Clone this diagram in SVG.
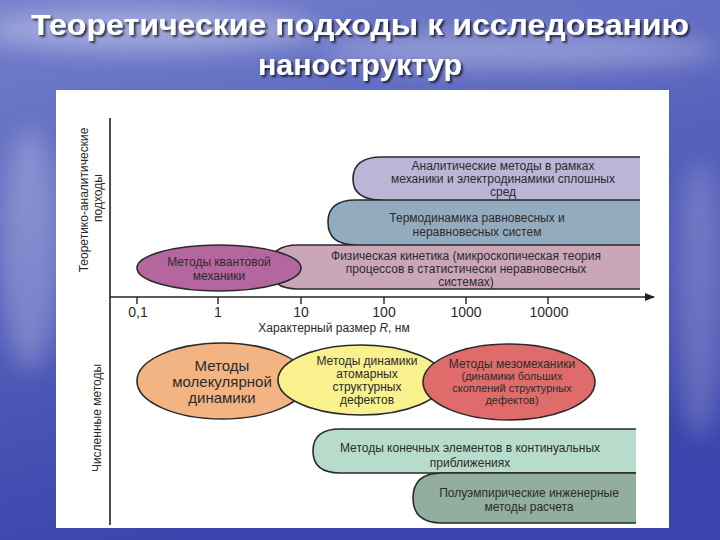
<svg xmlns="http://www.w3.org/2000/svg" width="720" height="540" viewBox="0 0 720 540">
<defs>
<linearGradient id="bg" x1="0" y1="0" x2="0.3" y2="1">
<stop offset="0" stop-color="#7480cc"/>
<stop offset="0.5" stop-color="#5560bb"/>
<stop offset="1" stop-color="#3a44ac"/>
</linearGradient>
<filter id="blur" x="-50%" y="-50%" width="200%" height="200%"><feGaussianBlur stdDeviation="12"/></filter>
<filter id="sh" x="-5%" y="-20%" width="110%" height="140%"><feDropShadow dx="2" dy="2" stdDeviation="1" flood-color="#000" flood-opacity="0.7"/></filter>
<marker id="arr" markerWidth="10" markerHeight="8" refX="9" refY="4" orient="auto" markerUnits="userSpaceOnUse">
<path d="M0,0 L10,4 L0,8 Z" fill="#222"/>
</marker>
<style>
.t{font-family:"Liberation Sans",Arial,sans-serif;fill:#2b2b2b;text-anchor:middle}
.s13{font-size:12px}
.s11{font-size:11px}
.s15{font-size:15px}
.ttl{font-family:"Liberation Sans",Arial,sans-serif;font-weight:bold;font-size:29px;fill:#fff;text-anchor:middle;filter:url(#sh)}
.ol{fill:none;stroke:#2a2a2a;stroke-width:1.6}
.el{stroke:#2a2a2a;stroke-width:1.6}
</style>
</defs>
<rect width="720" height="540" fill="url(#bg)"/>
<g filter="url(#blur)" fill="#ffffff">
<ellipse cx="150" cy="30" rx="170" ry="22" opacity="0.35"/>
<ellipse cx="520" cy="50" rx="200" ry="18" opacity="0.3"/>
<ellipse cx="30" cy="250" rx="30" ry="120" opacity="0.25"/>
<ellipse cx="700" cy="300" rx="25" ry="140" opacity="0.2"/>
</g>
<text class="ttl" x="360" y="35" textLength="658" lengthAdjust="spacingAndGlyphs">Теоретические подходы к исследованию</text>
<text class="ttl" x="360" y="75" textLength="204" lengthAdjust="spacingAndGlyphs">наноструктур</text>
<rect x="56" y="90" width="613" height="438" fill="#ffffff"/>

<g id="axes">
<line x1="110" y1="118" x2="110" y2="525" stroke="#222" stroke-width="1.6"/>
<line x1="110" y1="297" x2="654" y2="297" stroke="#222" stroke-width="1.6" marker-end="url(#arr)"/>
<g stroke="#222" stroke-width="1.4">
<line x1="137" y1="297" x2="137" y2="304"/>
<line x1="218" y1="297" x2="218" y2="304"/>
<line x1="301" y1="297" x2="301" y2="304"/>
<line x1="384" y1="297" x2="384" y2="304"/>
<line x1="466" y1="297" x2="466" y2="304"/>
<line x1="548" y1="297" x2="548" y2="304"/>
</g>
<g class="t" font-size="14">
<text x="138" y="317">0,1</text>
<text x="218" y="317">1</text>
<text x="301" y="317">10</text>
<text x="384" y="317">100</text>
<text x="466" y="317">1000</text>
<text x="549" y="317">10000</text>
</g>
<text class="t s13" x="334" y="332">Характерный размер <tspan font-style="italic">R</tspan>, нм</text>
<text class="t s13" transform="translate(88,200) rotate(-90)">Теоретико-аналитические</text>
<text class="t s13" transform="translate(102,198) rotate(-90)">подходы</text>
<text class="t s13" transform="translate(101,418) rotate(-90)">Численные методы</text>
</g>

<g id="analytic">
<path d="M640 157 H382 Q353 157 353 179 Q353 200 382 200 H640 Z" fill="#bbb5d8"/>
<path class="ol" d="M640 157 H382 Q353 157 353 179 Q353 200 382 200"/>
<text class="t s13" x="503" y="170">Аналитические методы в рамках</text>
<text class="t s13" x="503" y="183">механики и электродинамики сплошных</text>
<text class="t s13" x="503" y="196">сред</text>
</g>
<g id="thermo">
<path d="M640 200 H356 Q328 200 328 222 Q328 245 356 245 H640 Z" fill="#93abbf"/>
<path class="ol" d="M640 200 H356 Q328 200 328 222 Q328 245 356 245"/>
<text class="t s13" x="477" y="222">Термодинамика равновесных и</text>
<text class="t s13" x="477" y="236">неравновесных систем</text>
</g>
<g id="kinetics">
<path d="M640 245 H298 Q270 245 270 267 Q270 289 298 289 H640 Z" fill="#cba5b8"/>
<path class="ol" d="M640 245 H298 Q270 245 270 267 Q270 289 298 289 H640"/>
<text class="t s13" x="466" y="260">Физическая кинетика (микроскопическая теория</text>
<text class="t s13" x="466" y="273">процессов в статистически неравновесных</text>
<text class="t s13" x="466" y="286">системах)</text>
</g>
<g id="quantum">
<ellipse class="el" cx="219" cy="268" rx="82" ry="23" fill="#b4679f"/>
<text class="t s13" x="219" y="266">Методы квантовой</text>
<text class="t s13" x="219" y="280">механики</text>
</g>

<g id="md">
<ellipse class="el" cx="222" cy="381" rx="85" ry="38" fill="#f2b482"/>
<text class="t s15" x="222" y="371">Методы</text>
<text class="t s15" x="222" y="387">молекулярной</text>
<text class="t s15" x="222" y="403">динамики</text>
</g>
<g id="defects">
<ellipse class="el" cx="361" cy="380" rx="83" ry="35" fill="#f8f18e"/>
<text class="t s13" x="367" y="365">Методы динамики</text>
<text class="t s13" x="367" y="378">атомарных</text>
<text class="t s13" x="367" y="391">структурных</text>
<text class="t s13" x="367" y="404">дефектов</text>
</g>
<g id="meso">
<ellipse class="el" cx="509" cy="382" rx="86" ry="38" fill="#e06b6b"/>
<text class="t s13" x="512" y="368">Методы мезомеханики</text>
<text class="t s11" x="512" y="380">(динамики больших</text>
<text class="t s11" x="512" y="392">скоплений структурных</text>
<text class="t s11" x="512" y="404">дефектов)</text>
</g>

<g id="fem">
<path d="M636 429 H340 Q313 429 313 451 Q313 473 340 473 H636 Z" fill="#b7dccb"/>
<path class="ol" d="M636 429 H340 Q313 429 313 451 Q313 473 340 473 H636"/>
<text class="t s13" x="470" y="452">Методы конечных элементов в континуальных</text>
<text class="t s13" x="470" y="467">приближениях</text>
</g>
<g id="semi">
<path d="M636 473 H442 Q413 473 413 498 Q413 523 442 523 H636 Z" fill="#91ae9e"/>
<path class="ol" d="M636 473 H442 Q413 473 413 498 Q413 523 442 523 H636"/>
<text class="t s13" x="529" y="497">Полуэмпирические инженерные</text>
<text class="t s13" x="529" y="511">методы расчета</text>
</g>
</svg>
